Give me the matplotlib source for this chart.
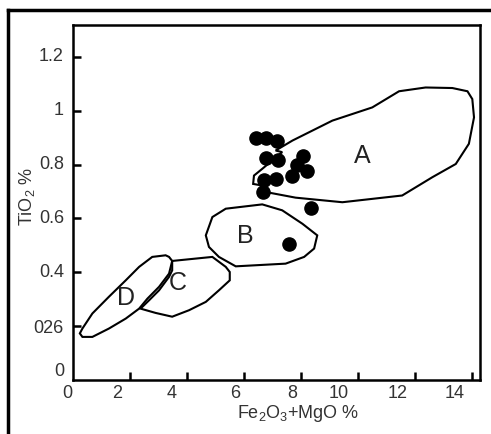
import numpy as np
import matplotlib
matplotlib.use('Agg')
import matplotlib.pyplot as plt
from matplotlib.patches import Polygon
from matplotlib.lines import Line2D

plt.rcParams['font.family'] = ['Liberation Sans', 'DejaVu Sans']
plt.rcParams['mathtext.fontset'] = 'custom'
plt.rcParams['mathtext.rm'] = 'Liberation Sans'
plt.rcParams['mathtext.it'] = 'Liberation Sans'

# sample points (Fe2O3+MgO %, TiO2 %)
pts_x = [6.42, 6.77, 7.16, 6.77, 7.20, 8.07, 7.86, 8.20, 7.70, 7.12, 6.70, 6.67, 8.35, 7.58]
pts_y = [0.900, 0.900, 0.889, 0.826, 0.818, 0.833, 0.800, 0.775, 0.756, 0.748, 0.741, 0.697, 0.640, 0.504]

# field outlines
field_A = [(7.11, 0.852), (7.70, 0.889), (9.10, 0.963), (10.50, 1.012), (11.44, 1.072),
           (12.37, 1.086), (13.31, 1.084), (13.84, 1.072), (14.01, 1.043), (14.07, 0.975),
           (13.89, 0.877), (13.43, 0.802), (12.61, 0.753), (11.55, 0.685), (9.45, 0.660),
           (7.81, 0.677), (6.76, 0.698), (6.64, 0.722), (6.32, 0.728), (6.35, 0.759),
           (6.64, 0.784), (7.34, 0.846)]
field_B = [(4.66, 0.537), (4.89, 0.605), (5.36, 0.636), (6.64, 0.652), (7.34, 0.630),
           (8.05, 0.580), (8.57, 0.537), (8.46, 0.488), (8.11, 0.457), (7.46, 0.432),
           (5.71, 0.422), (5.12, 0.457), (4.77, 0.494)]
field_C = [(3.48, 0.442), (4.89, 0.457), (5.36, 0.420), (5.50, 0.401), (5.50, 0.370),
           (5.12, 0.333), (4.66, 0.290), (4.07, 0.259), (3.48, 0.235), (2.90, 0.249),
           (2.37, 0.265), (2.67, 0.296), (3.02, 0.333), (3.37, 0.383), (3.48, 0.407)]
field_D = [(3.25, 0.463), (3.37, 0.457), (3.48, 0.442), (3.37, 0.395), (3.02, 0.346),
           (2.61, 0.302), (2.32, 0.265), (1.85, 0.228), (1.26, 0.191), (0.68, 0.160),
           (0.33, 0.160), (0.24, 0.173), (0.33, 0.191), (0.68, 0.247), (1.26, 0.309),
           (1.85, 0.370), (2.32, 0.420), (2.78, 0.457)]
field_names = ['A', 'B', 'C', 'D']
field_label_xy = [(10.14, 0.833), (6.04, 0.533), (3.66, 0.359), (1.85, 0.303)]

xticks = [2, 4, 6, 8, 10, 12, 14]
xtick_labels = ['0', '2', '4', '6', '8', '10', '12', '14']
yticks = [0.2, 0.4, 0.6, 0.8, 1.0, 1.2]
ytick_labels = ['0', '026', '0.4', '0.6', '0.8', '1', '1.2']

txt = '#333333'

fig = plt.figure(figsize=(4.91, 4.34), dpi=100)
ax = fig.add_axes([73/491, 1 - 380/434, 407/491, 355/434])
ax.set_xlim(0, 14.28)
ax.set_ylim(0, 1.318)

for sp in ax.spines.values():
    sp.set_linewidth(1.8)
ax.set_xticks(xticks)
ax.set_yticks(yticks)
ax.set_xticklabels([])
ax.set_yticklabels([])
ax.tick_params(direction='in', length=6, width=1.8)

for f in [field_A, field_B, field_C, field_D]:
    ax.add_patch(Polygon(f, closed=True, fill=False, ec='black', lw=1.5))

for name, (lx, ly) in zip(field_names, field_label_xy):
    ax.text(lx, ly, name, fontsize=18, color='#222222', ha='center', va='center')

ax.scatter(pts_x, pts_y, s=90, color='black', zorder=3)

# tick labels (offset like the original drawing)
xlab_pos = [-0.2, 1.55, 3.47, 5.7, 7.7, 9.33, 11.4, 13.4]
for lab, xp in zip(xtick_labels, xlab_pos):
    ax.text(xp, -0.05, lab, fontsize=13, color=txt, ha='center', va='center',
            clip_on=False)
ylab_pos = [0.03, 0.193, 0.4, 0.6, 0.8, 1.0, 1.2]
for lab, yp in zip(ytick_labels, ylab_pos):
    ax.text(-0.32, yp, lab, fontsize=13, color=txt, ha='right', va='center',
            clip_on=False)

fig.text(298/491, 1 - 413/434, 'Fe$_2$O$_3$+MgO %', fontsize=13, color=txt,
         ha='center', va='center')
fig.text(27/491, 1 - 196/434, 'TiO$_2$ %', fontsize=13, color=txt,
         ha='center', va='center', rotation=90)

# outer frame
fig.add_artist(Line2D([8/491, 8/491], [0, 1 - 10/434], color='black', lw=2.5))
fig.add_artist(Line2D([8/491, 1], [1 - 10/434, 1 - 10/434], color='black', lw=2.5))

fig.savefig('out.png', dpi=100)
